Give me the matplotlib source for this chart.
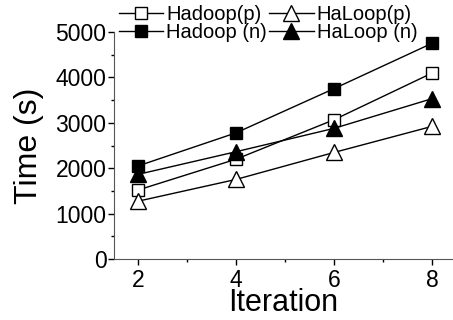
import matplotlib.pyplot as plt
from matplotlib.ticker import MultipleLocator

plt.rcParams['font.family'] = ['Liberation Sans', 'DejaVu Sans']

# dati
iterations = [2, 4, 6, 8]
hadoop_p = [1520, 2200, 3070, 4100]
haloop_p = [1275, 1755, 2350, 2925]
hadoop_n = [2050, 2780, 3755, 4755]
haloop_n = [1865, 2365, 2880, 3535]

fig = plt.figure(figsize=(4.53, 3.2), dpi=100)
ax = fig.add_axes([0.252, 0.19, 0.748, 0.71])

sq = dict(color='black', linewidth=1, markersize=9, markeredgewidth=1)
tri = dict(color='black', linewidth=1, markersize=11, markeredgewidth=1)
l1, = ax.plot(iterations, hadoop_p, marker='s', markerfacecolor='white', **sq)
l2, = ax.plot(iterations, haloop_p, marker='^', markerfacecolor='white', **tri)
l3, = ax.plot(iterations, hadoop_n, marker='s', markerfacecolor='black', **sq)
l4, = ax.plot(iterations, haloop_n, marker='^', markerfacecolor='black', **tri)

ax.set_xlim(1.52, 8.42)
ax.set_ylim(0, 5000)
ax.xaxis.set_major_locator(MultipleLocator(2))
ax.xaxis.set_minor_locator(MultipleLocator(1))
ax.yaxis.set_major_locator(MultipleLocator(1000))
ax.yaxis.set_minor_locator(MultipleLocator(500))
ax.tick_params(which='major', direction='out', length=4, width=1, labelsize=16.5, pad=1.5)
ax.tick_params(axis='x', which='major', pad=3)
ax.tick_params(which='minor', direction='out', length=2.5, width=1)
ax.spines['top'].set_visible(False)
ax.spines['right'].set_visible(False)
for s in ['left', 'bottom']:
    ax.spines[s].set_color('#555555')

ax.set_xlabel('Iteration', fontsize=22, labelpad=-2.5)
ax.set_ylabel('Time (s)', fontsize=23, labelpad=8)

fig.legend([l1, l3, l2, l4], ['Hadoop(p)', 'Hadoop (n)', 'HaLoop(p)', 'HaLoop (n)'],
           ncol=2, frameon=False, fontsize=14.5, loc='upper left',
           bbox_to_anchor=(0.263, 0.985), handlelength=2.2, handletextpad=0.15,
           columnspacing=0.1, labelspacing=-0.05, borderpad=0, borderaxespad=0)

fig.savefig('out.png', dpi=100)
